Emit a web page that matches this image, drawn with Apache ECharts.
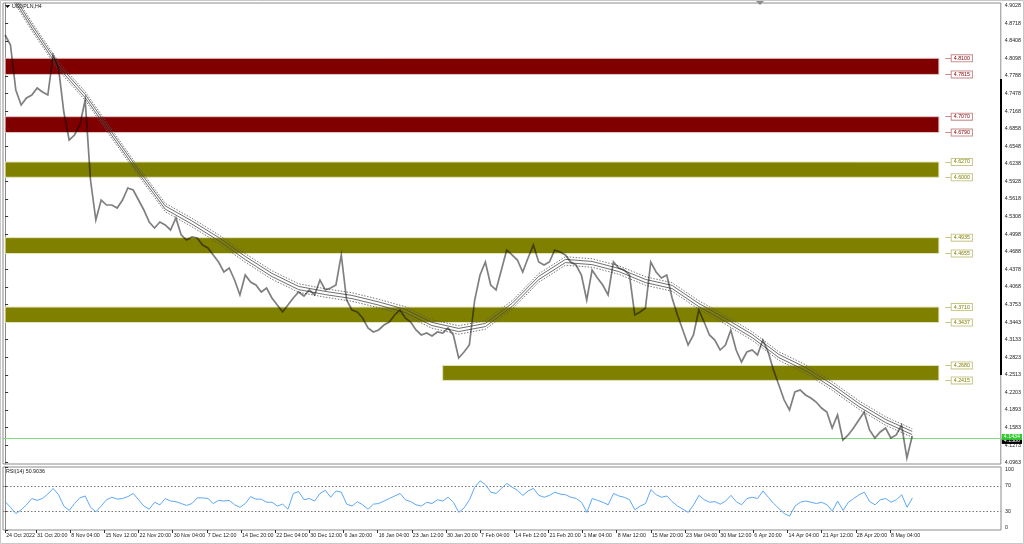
<!DOCTYPE html>
<html>
<head>
<meta charset="utf-8">
<script src="https://cdn.jsdelivr.net/npm/echarts@6.0.0/dist/echarts.min.js"></script>
<style>
html,body{margin:0;padding:0;background:#fff;}
#chart{width:1024px;height:544px;}
</style>
</head>
<body>
<div id="chart"></div>
<script>
// ---------- DATA ----------
const symbolTitle = "USDPLN,H4";
const rsiTitle = "RSI(14) 50.9036";
const barsPerSample = 5;      // one close sample every 5 H4 bars
const closes = [
4.8511,4.8335,4.7541,4.7276,4.7399,4.7452,4.7576,4.7505,4.7452,4.8158,
4.7929,4.7152,4.6658,4.6746,4.6923,4.7364,4.5952,4.5246,4.5599,4.5511,
4.5511,4.5458,4.5599,4.5811,4.5776,4.5599,4.5423,4.5211,4.5105,4.5211,
4.5158,4.5070,4.5282,4.4982,4.4893,4.4946,4.4929,4.4805,4.4752,4.4629,
4.4505,4.4329,4.4399,4.4187,4.3923,4.4276,4.4152,4.4099,4.3976,4.4046,
4.3870,4.3746,4.3623,4.3746,4.3870,4.3976,4.3905,4.4011,4.3923,4.4187,
4.4011,4.4046,4.4099,4.4629,4.3834,4.3658,4.3623,4.3517,4.3340,4.3270,
4.3305,4.3393,4.3446,4.3570,4.3658,4.3517,4.3446,4.3305,4.3217,4.3252,
4.3199,4.3270,4.3252,4.3340,4.3217,4.2811,4.2917,4.3040,4.3834,4.4276,
4.4505,4.4099,4.4011,4.4364,4.4717,4.4629,4.4540,4.4329,4.4576,4.4805,
4.4505,4.4452,4.4505,4.4717,4.4682,4.4629,4.4505,4.4452,4.4276,4.3834,
4.4364,4.4223,4.4099,4.3923,4.4505,4.4399,4.4364,4.4276,4.3570,4.3623,
4.3693,4.4505,4.4329,4.4223,4.4276,4.3870,4.3570,4.3305,4.3040,4.3217,
4.3658,4.3446,4.3217,4.3128,4.2952,4.3040,4.3305,4.2952,4.2740,4.2917,
4.2952,4.2864,4.3128,4.2917,4.2599,4.2334,4.2069,4.1893,4.2211,4.2246,
4.2158,4.2105,4.2034,4.1928,4.1858,4.1575,4.1805,4.1363,4.1452,4.1575,
4.1716,4.1858,4.1540,4.1399,4.1505,4.1575,4.1399,4.1452,4.1628,4.1046,
4.1434
];
const rsiValues = [
45,36,26,32,40,50,47,50,57,66,
56,38,31,42,51,54,36,29,38,48,
52,49,50,53,58,48,38,33,44,40,
50,46,45,42,39,42,51,51,50,42,
47,46,47,40,36,42,53,49,49,44,
44,38,41,33,58,61,48,50,46,58,
63,52,62,60,41,38,45,40,33,41,
42,46,50,54,58,48,45,40,38,44,
42,48,46,52,44,28,35,48,68,78,
72,60,58,66,74,68,63,55,62,66,
55,52,55,60,57,56,52,50,44,28,
50,47,44,40,58,54,52,48,32,38,
42,64,56,52,54,45,38,33,28,40,
55,48,44,45,41,46,55,45,40,50,
52,50,62,52,42,34,26,22,38,44,
46,44,42,44,40,30,46,31,44,50,
56,60,45,40,48,50,44,48,56,36,
50.9
];
const barsPerMa = 25;         // one moving-average reading every 25 bars
const maValues = [
4.9411,4.8663,4.7964,4.7435,4.6764,4.6102,4.5467,4.5202,4.4911,4.4576,
4.4276,4.4046,4.3958,4.3887,4.3773,4.3640,4.3411,4.3305,4.3393,4.3746,
4.4223,4.4523,4.4487,4.4364,4.4170,4.4064,4.3746,4.3481,4.3199,4.2846,
4.2617,4.2317,4.1981,4.1699,4.1487
];
const envInner = 0.0028;      // envelope offsets
const envOuter = 0.0075;

const zoneHigh  = [4.8100, 4.7070, 4.6270, 4.4935, 4.3710, 4.2680];
const zoneLow   = [4.7815, 4.6790, 4.6000, 4.4655, 4.3437, 4.2415];
const zoneStartBar = [0, 0, 0, 0, 0, 410];
const zoneEndBar = 875;
const zoneKind  = ["red", "red", "olive", "olive", "olive", "olive"];

const bidPrice = 4.1434;
const askPrice = 4.1386;

const priceTicks = [4.9028,4.8718,4.8408,4.8098,4.7788,4.7478,4.7168,4.6858,4.6548,4.6238,
4.5928,4.5618,4.5308,4.4998,4.4688,4.4378,4.4068,4.3753,4.3443,4.3133,4.2823,4.2513,
4.2203,4.1893,4.1583,4.1273,4.0963];
const rsiTicks = [0, 30, 70, 100];
const dateTickBars = [0,29,61,93,125,157,189,221,253,285,317,349,381,413,445,477,509,541,573,605,637,669,701,733,765,797,829];
const dateLabels = ["24 Oct 2022","31 Oct 20:00","8 Nov 04:00","15 Nov 12:00","22 Nov 20:00","30 Nov 04:00",
"7 Dec 12:00","14 Dec 20:00","22 Dec 04:00","30 Dec 12:00","6 Jan 20:00","16 Jan 04:00","23 Jan 12:00",
"30 Jan 20:00","7 Feb 04:00","14 Feb 12:00","21 Feb 20:00","1 Mar 04:00","8 Mar 12:00","15 Mar 20:00",
"23 Mar 04:00","30 Mar 12:00","6 Apr 20:00","14 Apr 04:00","21 Apr 12:00","28 Apr 20:00","8 May 04:00"];

// ---------- BUILD ----------
const FONT = "Liberation Sans";
const FS = 5.3;
const xMin = -2, xMax = 933;
const yMin = 4.0940, yMax = 4.9076;

const priceData = closes.map((v, i) => [i * barsPerSample, v]);
const rsiData = rsiValues.map((v, i) => [i * barsPerSample, v]);
const maShift = off => maValues.map((v, i) => [i * barsPerMa, +(v + off).toFixed(4)]);

const zoneStyle = {
  red:   {fill: "#800000", border: "#e2c4c4", labBorder: "#c98a8a", labText: "#800000"},
  olive: {fill: "#808000", border: "#e4e4bc", labBorder: "#c8c88a", labText: "#808000"}
};

const zoneAreas = zoneHigh.map((h, k) => [
  {xAxis: zoneStartBar[k], yAxis: h, itemStyle: {color: zoneStyle[zoneKind[k]].fill, borderColor: zoneStyle[zoneKind[k]].border, borderWidth: 1}},
  {xAxis: zoneEndBar, yAxis: zoneLow[k]}
]);

const levelLines = [];
zoneHigh.forEach((h, k) => {
  [h, zoneLow[k]].forEach(lv => {
    const st = zoneStyle[zoneKind[k]];
    levelLines.push([
      {coord: [881, lv], lineStyle: {color: st.labBorder, width: 1, type: "solid"},
       label: {show: true, position: "end", distance: 0, formatter: lv.toFixed(4),
               fontFamily: FONT, fontSize: FS, color: st.labText, backgroundColor: "#fff",
               borderColor: st.labBorder, borderWidth: 1, padding: [1, 2, 0, 2]}},
      {coord: [887, lv]}
    ]);
  });
});

const chart = echarts.init(document.getElementById("chart"), null, {renderer: "canvas"});

const option = {
  animation: false,
  backgroundColor: "#ffffff",
  grid: [
    {left: 3, right: 23, top: 3, height: 461, show: true, borderColor: "#8c8c8c", borderWidth: 1, backgroundColor: "transparent"},
    {left: 3, right: 23, top: 467, height: 63, show: true, borderColor: "#8c8c8c", borderWidth: 1, backgroundColor: "transparent"}
  ],
  xAxis: [
    {type: "value", gridIndex: 0, min: xMin, max: xMax, show: true,
     axisLine: {show: false}, axisTick: {show: false}, axisLabel: {show: false}, splitLine: {show: false}},
    {type: "value", gridIndex: 1, min: xMin, max: xMax,
     axisLine: {show: false}, splitLine: {show: false},
     axisTick: {show: true, customValues: dateTickBars, length: 3, lineStyle: {color: "#333"}},
     axisLabel: {show: true, customValues: dateTickBars, fontFamily: FONT, fontSize: FS, color: "#222",
       align: "left", margin: 3, padding: [0, 0, 0, 1], hideOverlap: false,
       formatter: v => { const k = dateTickBars.indexOf(Math.round(v)); return k >= 0 ? dateLabels[k] : ""; }}}
  ],
  yAxis: [
    {type: "value", gridIndex: 0, position: "right", min: yMin, max: yMax,
     axisLine: {show: true, lineStyle: {color: "#8c8c8c"}},
     splitLine: {show: false},
     axisTick: {show: true, customValues: priceTicks, length: 3, inside: false, lineStyle: {color: "#333"}},
     axisLabel: {show: true, customValues: priceTicks, fontFamily: FONT, fontSize: FS, color: "#222", margin: 4,
       formatter: v => v.toFixed(4)}},
    {type: "value", gridIndex: 1, position: "right", min: 0, max: 100,
     axisLine: {show: true, lineStyle: {color: "#8c8c8c"}},
     splitLine: {show: false},
     axisTick: {show: true, customValues: rsiTicks, length: 3, lineStyle: {color: "#333"}},
     axisLabel: {show: true, customValues: rsiTicks, fontFamily: FONT, fontSize: FS, color: "#222", margin: 4,
       verticalAlignMaxLabel: "top", verticalAlignMinLabel: "bottom",
       formatter: v => String(Math.round(v))}}
  ],
  series: [
    {name: "zones", type: "line", xAxisIndex: 0, yAxisIndex: 0, data: [], z: 1, silent: true,
     markArea: {silent: true, data: zoneAreas}},
    {name: "levels", type: "line", xAxisIndex: 0, yAxisIndex: 0, data: [], z: 2, silent: true,
     markLine: {silent: true, symbol: ["none", "none"], data: levelLines}},
    {name: "ask", type: "line", xAxisIndex: 0, yAxisIndex: 0, data: [], z: 3, silent: true,
     markLine: {silent: true, symbol: ["none", "none"],
       data: [
         {yAxis: askPrice, lineStyle: {color: "#cfcfcf", width: 1, type: "solid"},
          label: {show: true, position: "end", distance: 1, offset: [0, 3], formatter: askPrice.toFixed(4), fontFamily: FONT, fontSize: FS,
            color: "#fff", backgroundColor: "#000", padding: [1, 2, 0, 2]}},
         {yAxis: bidPrice, lineStyle: {color: "#7fdc7f", width: 1, type: "solid"},
          label: {show: true, position: "end", distance: 1, offset: [0, -1], formatter: bidPrice.toFixed(4), fontFamily: FONT, fontSize: FS,
            color: "#fff", backgroundColor: "#32c832", padding: [1, 2, 0, 2]}}
       ]}},
    {name: "maInUp", type: "line", xAxisIndex: 0, yAxisIndex: 0, data: maShift(envInner), symbol: "none", z: 4,
     lineStyle: {color: "#4a4a4a", width: 0.8}},
    {name: "maInDn", type: "line", xAxisIndex: 0, yAxisIndex: 0, data: maShift(-envInner), symbol: "none", z: 4,
     lineStyle: {color: "#4a4a4a", width: 0.8}},
    {name: "maOutUp", type: "line", xAxisIndex: 0, yAxisIndex: 0, data: maShift(envOuter), symbol: "none", z: 4,
     lineStyle: {color: "#555", width: 0.8, type: [1.5, 1.5]}},
    {name: "maOutDn", type: "line", xAxisIndex: 0, yAxisIndex: 0, data: maShift(-envOuter), symbol: "none", z: 4,
     lineStyle: {color: "#555", width: 0.8, type: [1.5, 1.5]}},
    {name: "price", type: "line", xAxisIndex: 0, yAxisIndex: 0, data: priceData, symbol: "none", z: 5,
     lineStyle: {color: "rgba(0,0,0,0.5)", width: 1.7, join: "miter"}},
    {name: "rsi", type: "line", xAxisIndex: 1, yAxisIndex: 1, data: rsiData, symbol: "none", z: 5,
     lineStyle: {color: "#5da8f8", width: 1},
     markLine: {silent: true, symbol: ["none", "none"], label: {show: false},
       lineStyle: {color: "#777", width: 1, type: [1.5, 2]},
       data: [{yAxis: 70}, {yAxis: 30}]}}
  ],
  graphic: [
    {type: "rect", shape: {x: 0.5, y: 0.5, width: 1023, height: 543}, style: {fill: null, stroke: "#c8c8c8", lineWidth: 1}, silent: true},
    {type: "polygon", shape: {points: [[5, 5], [10, 5], [7.5, 8]]}, style: {fill: "#000"}, silent: true},
    {type: "text", left: 12, top: 4, style: {text: symbolTitle, fontFamily: FONT, fontSize: FS, fill: "#111"}, silent: true},
    {type: "text", left: 6, top: 469, style: {text: rsiTitle, fontFamily: FONT, fontSize: FS, fill: "#111"}, silent: true},
    {type: "polygon", shape: {points: [[756, 1], [764, 1], [760, 5]]}, style: {fill: "#8c8c8c"}, silent: true},
    {type: "line", shape: {x1: 1001, y1: 79, x2: 1001, y2: 375}, style: {stroke: "#000", lineWidth: 2}, silent: true}
  ]
};
chart.setOption(option);
</script>
</body>
</html>
